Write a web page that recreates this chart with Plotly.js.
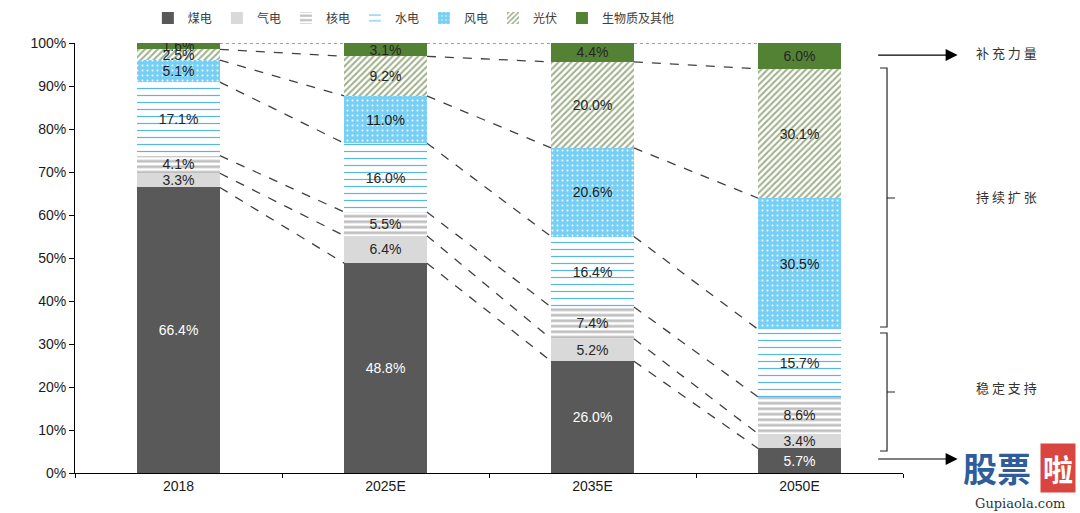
<!DOCTYPE html>
<html><head><meta charset="utf-8">
<script src="https://cdn.plot.ly/plotly-3.0.1.min.js"></script>
<style>html,body{margin:0;padding:0;background:#fff}#c{width:1080px;height:513px}</style>
</head><body><div id="c"></div>
<script>
var categories = ['2018', '2025E', '2035E', '2050E'];
var seriesNames = ['煤电', '气电', '核电', '水电', '风电', '光伏', '生物质及其他'];
var coal    = [66.4, 48.8, 26.0, 5.7];
var gas     = [3.3, 6.4, 5.2, 3.4];
var nuclear = [4.1, 5.5, 7.4, 8.6];
var hydro   = [17.1, 16.0, 16.4, 15.7];
var wind    = [5.1, 11.0, 20.6, 30.5];
var solar   = [2.5, 9.2, 20.0, 30.1];
var bio     = [1.6, 3.1, 4.4, 6.0];
var yTickVals = [0, 10, 20, 30, 40, 50, 60, 70, 80, 90, 100];
var yTickText = ['0%', '10%', '20%', '30%', '40%', '50%', '60%', '70%', '80%', '90%', '100%'];

var series = [coal, gas, nuclear, hydro, wind, solar, bio];
var markers = [
  {color: '#595959'},
  {color: '#d9d9d9'},
  {color: '#ffffff', pattern: {shape: '-', fgcolor: '#bfbfbf', bgcolor: '#ffffff', size: 5.5, solidity: 0.5, fillmode: 'replace'}},
  {color: '#ffffff', pattern: {shape: '-', fgcolor: '#55b8e8', bgcolor: '#ffffff', size: 7, solidity: 0.17, fillmode: 'replace'}},
  {color: '#76cff4', pattern: {shape: '.', fgcolor: '#ffffff', bgcolor: '#76cff4', size: 5, solidity: 0.12, fillmode: 'replace'}},
  {color: '#ffffff', pattern: {shape: '/', fgcolor: '#9fb08a', bgcolor: '#ffffff', size: 4.5, solidity: 0.45, fillmode: 'replace'}},
  {color: '#548235'}
];
var textColors = ['#ffffff', '#262626', '#262626', '#262626', '#1a1a1a', '#262626', '#262626'];

var traces = series.map(function (vals, k) {
  return {
    type: 'bar', name: seriesNames[k], x: categories, y: vals,
    marker: Object.assign({line: {width: 0}}, markers[k]),
    text: vals.map(function (v) { return v.toFixed(1) + '%'; }),
    textposition: 'inside', insidetextanchor: 'middle',
    textfont: {family: 'Liberation Sans, Arial, sans-serif', size: 14, color: textColors[k]},
    hoverinfo: 'skip', width: 0.4
  };
});

// connector lines between bars at cumulative boundaries
var shapes = [];
var cum = categories.map(function () { return 0; });
var cums = [];
series.forEach(function (vals) {
  cum = cum.map(function (c, i) { return c + vals[i]; });
  cums.push(cum.slice());
});
cums.forEach(function (c, k) {
  var isTop = (k === cums.length - 1);
  for (var i = 0; i < categories.length - 1; i++) {
    shapes.push({type: 'line', xref: 'x', yref: 'y', x0: i + 0.2, x1: i + 0.8,
      y0: Math.min(c[i], 100), y1: Math.min(c[i + 1], 100),
      line: {color: '#404040', width: isTop ? 1 : 1.3, dash: isTop ? 'dot' : 'dash'}, layer: 'above'});
  }
});
// braces
shapes.push({type: 'path', xref: 'paper', yref: 'paper',
  path: 'M 0.9722,0.9419 L 0.9807,0.9419 L 0.9807,0.3395 L 0.9722,0.3395 M 0.9807,0.6395 L 0.9903,0.6395',
  line: {color: '#262626', width: 1.2}});
shapes.push({type: 'path', xref: 'paper', yref: 'paper',
  path: 'M 0.9722,0.3256 L 0.9807,0.3256 L 0.9807,0.0512 L 0.9722,0.0512 M 0.9807,0.1884 L 0.9903,0.1884',
  line: {color: '#262626', width: 1.2}});

var cjk = 'Noto Sans CJK SC, sans-serif';
var annotations = [
  {xref: 'paper', yref: 'paper', x: 1.066, y: 0.972, ax: -81, ay: 0, text: '', showarrow: true, arrowhead: 2, arrowsize: 2, arrowwidth: 1.2, arrowcolor: '#000'},
  {xref: 'paper', yref: 'paper', x: 1.066, y: 0.0326, ax: -81, ay: 0, text: '', showarrow: true, arrowhead: 2, arrowsize: 2, arrowwidth: 1.2, arrowcolor: '#000'},
  {xref: 'paper', yref: 'paper', x: 1.125, y: 0.977, xanchor: 'center', yanchor: 'middle', text: '补 充 力 量', showarrow: false, font: {family: cjk, size: 13, color: '#333'}},
  {xref: 'paper', yref: 'paper', x: 1.125, y: 0.644, xanchor: 'center', yanchor: 'middle', text: '持 续 扩 张', showarrow: false, font: {family: cjk, size: 13, color: '#333'}},
  {xref: 'paper', yref: 'paper', x: 1.125, y: 0.198, xanchor: 'center', yanchor: 'middle', text: '稳 定 支 持', showarrow: false, font: {family: cjk, size: 13, color: '#333'}},
  {xref: 'paper', yref: 'paper', x: 1.114, y: 0.012, xanchor: 'center', yanchor: 'middle', text: '<b>股票</b>', showarrow: false, font: {family: cjk, size: 34, color: '#2f5d9b'}},
  {xref: 'paper', yref: 'paper', x: 1.187, y: 0.012, xanchor: 'center', yanchor: 'middle', text: '<b>啦</b>', showarrow: false, bgcolor: '#d9463f', borderpad: 2, font: {family: cjk, size: 30, color: '#ffffff'}},
  {xref: 'paper', yref: 'paper', x: 1.141, y: -0.07, xanchor: 'center', yanchor: 'middle', text: 'Gupiaola.com', showarrow: false, font: {family: 'DejaVu Serif, serif', size: 13, color: '#333'}}
];

var layout = {
  width: 1080, height: 513,
  margin: {l: 75, r: 177, t: 43, b: 40},
  paper_bgcolor: '#ffffff', plot_bgcolor: '#ffffff',
  barmode: 'stack', bargap: 0.6,
  showlegend: true,
  legend: {orientation: 'h', x: 0.088, xanchor: 'left', xref: 'paper', yref: 'container', y: 0.965, yanchor: 'middle',
    font: {family: cjk, size: 12, color: '#404040'}, traceorder: 'normal', itemwidth: 30},
  uniformtext: {mode: 'show', minsize: 14},
  xaxis: {type: 'category', showline: true, linecolor: '#000', linewidth: 1,
    ticks: 'outside', tickson: 'boundaries', ticklen: 4, tickcolor: '#000',
    tickfont: {family: 'Liberation Sans, Arial, sans-serif', size: 14, color: '#1a1a1a'},
    showgrid: false, zeroline: false},
  yaxis: {range: [0, 100], tickmode: 'array', tickvals: yTickVals, ticktext: yTickText, showline: true, linecolor: '#000', linewidth: 1,
    ticks: 'outside', ticklen: 5, tickcolor: '#000', showgrid: false, zeroline: false,
    tickfont: {family: 'Liberation Sans, Arial, sans-serif', size: 14, color: '#1a1a1a'}},
  shapes: shapes,
  annotations: annotations
};

Plotly.newPlot('c', traces, layout, {staticPlot: true});
</script>
</body></html>
